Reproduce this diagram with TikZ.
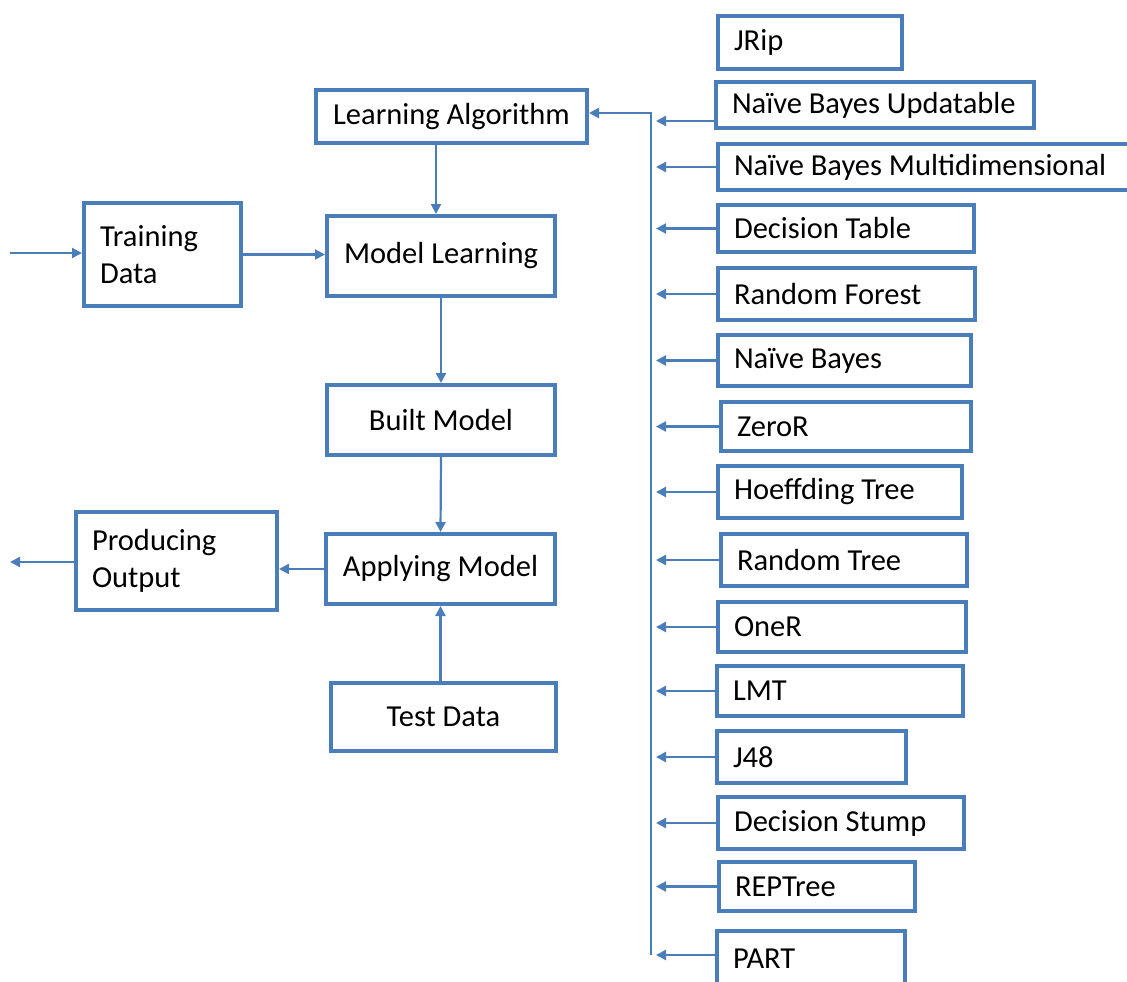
\documentclass[tikz,border=0pt]{standalone}
\usepackage{fontspec}
\setmainfont{Carlito}
\usetikzlibrary{arrows.meta}
\definecolor{bl}{HTML}{4A7EBB}
\tikzset{
  box/.style={draw=bl, line width=4pt, anchor=north west, inner ysep=0pt, font=\fontsize{30.5}{37}\selectfont},
  cbox/.style={box, align=center, inner xsep=0pt},
  lbox/.style={box, align=flush left, inner xsep=16pt},
  arr/.style={draw=bl, line width=2.2pt, -{Triangle[length=10pt,width=10pt]}},
}
\begin{document}
\begin{tikzpicture}[x=1pt,y=-1pt]
\useasboundingbox (0,0) rectangle (1127,982);
% central flow
\node[cbox, minimum width=271pt, minimum height=53pt] (la) at (314,88) {Learning Algorithm};
\node[lbox, text width=125pt, minimum height=103pt] (train) at (82,201) {Training\\Data};
\node[cbox, minimum width=228pt, minimum height=80pt] (ml) at (325,214) {Model Learning};
\node[cbox, minimum width=228pt, minimum height=70pt] (bm) at (325,383) {Built Model};
\node[cbox, minimum width=229pt, minimum height=70pt] (am) at (324,532) {Applying Model};
\node[cbox, minimum width=225pt, minimum height=68pt] (td) at (329,681) {Test Data};
\node[lbox, text width=169pt, minimum height=98pt] (po) at (74,510) {Producing\\Output};
% algorithm list
\node[lbox, text width=152pt, minimum height=53pt] (jrip) at (716,14) {JRip};
\node[lbox, text width=286pt, minimum height=46pt] (nbu) at (714,80) {Naïve Bayes Updatable};
\node[lbox, text width=398pt, minimum height=46pt] (nbm) at (716,142) {Naïve Bayes Multidimensional};
\node[lbox, text width=224pt, minimum height=47pt] (dt) at (716,203) {Decision Table};
\node[lbox, text width=225pt, minimum height=52pt] (rf) at (716,266) {Random Forest};
\node[lbox, text width=221pt, minimum height=51pt] (nb) at (716,333) {Naïve Bayes};
\node[lbox, text width=218pt, minimum height=49pt] (zr) at (719,400) {ZeroR};
\node[lbox, text width=212pt, minimum height=52pt] (ht) at (716,464) {Hoeffding Tree};
\node[lbox, text width=214pt, minimum height=52pt] (rt) at (719,532) {Random Tree};
\node[lbox, text width=216pt, minimum height=50pt] (oner) at (716,600) {OneR};
\node[lbox, text width=214pt, minimum height=50pt] (lmt) at (715,664) {LMT};
\node[lbox, text width=157pt, minimum height=52pt] (j48) at (715,729) {J48};
\node[lbox, text width=214pt, minimum height=52pt] (ds) at (716,795) {Decision Stump};
\node[lbox, text width=164pt, minimum height=49pt] (rep) at (717,860) {REPTree};
\node[lbox, text width=156pt, minimum height=56pt] (part) at (715,929) {PART};
% bus
\coordinate (bustop) at (651,113);
\coordinate (busbot) at (651,955);
\draw[arr] (busbot) -- (bustop) -- (bustop -| la.east);
\foreach \n in {nbm,dt,rf,nb,zr,ht,rt,oner,lmt,j48,ds,rep}{
  \draw[arr, shorten >=5pt] (\n.west) -- (\n.west -| bustop);
}
\draw[arr, shorten >=5pt] ([yshift=-16pt]nbu.west) -- ([yshift=-16pt]nbu.west -| bustop);
\draw[arr, shorten >=5pt] (part.west |- busbot) -- (busbot);
% flow arrows
\coordinate (in) at (10,253);
\coordinate (out) at (10,562);
\draw[arr] (in) -- (in -| train.west);
\draw[arr] (train.east) -- (train.east -| ml.west);
\draw[arr] ([xshift=-5pt]ml.north |- la.south) -- ([xshift=-5pt]ml.north);
\draw[arr] (ml.south) -- (bm.north);
\draw[arr] (bm.south) -- (am.north);
\draw[arr] (td.north -| am.south) -- (am.south);
\draw[arr] (am.west) -- (am.west -| po.east);
\draw[arr] (po.west |- out) -- (out);
\end{tikzpicture}
\end{document}
